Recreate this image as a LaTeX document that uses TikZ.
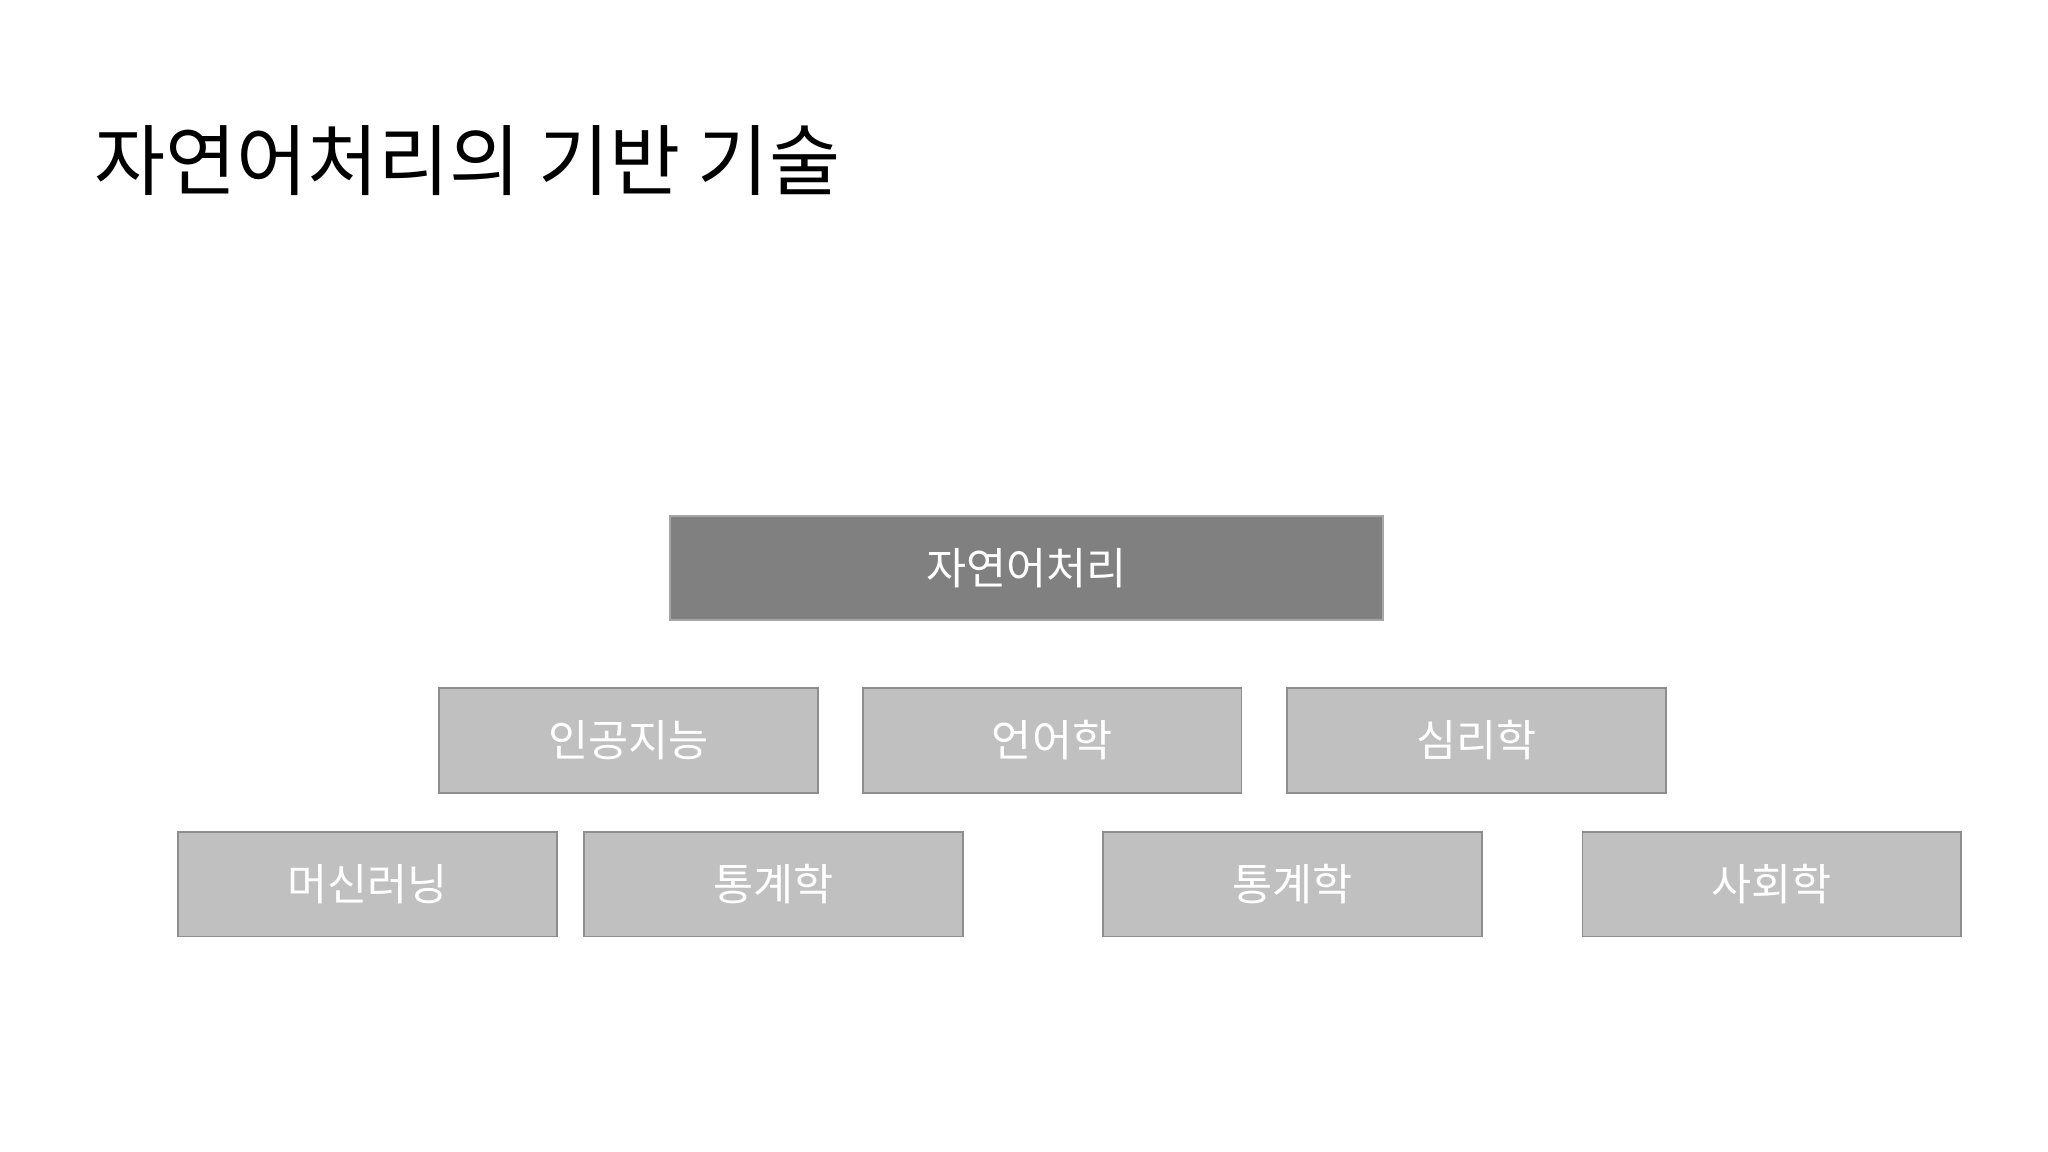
\documentclass[tikz,border=0pt]{standalone}
\usepackage{fontspec}
\setmainfont{Noto Sans CJK KR}
\definecolor{rootgray}{HTML}{808080}
\definecolor{rootline}{HTML}{A6A6A6}
\definecolor{fieldgray}{HTML}{C0C0C0}
\definecolor{fieldline}{HTML}{8E8E8E}

\begin{document}
\begin{tikzpicture}[x=0.02cm, y=-0.02cm,
        every node/.style={inner sep=0pt, outer sep=0pt},
        field/.style={draw=fieldline, fill=fieldgray, line width=0.8pt, text=white,
            minimum width=5.8cm, minimum height=1.6cm, font=\fontsize{19}{22}\selectfont},
        root/.style={field, draw=rootline, fill=rootgray, minimum width=10.92cm}]

    \useasboundingbox (0,0) rectangle (1568,882);

    % title
    \node[anchor=west, font=\fontsize{33.7}{40}\selectfont] (title) at (72,123) {자연어처리의 기반 기술};

    % top level
    \node[root] (nlp) at (786,435) {자연어처리};

    % second row
    \node[field] (ai)  at (481,567)    {인공지능};
    \node[field] (lin) at (805.5,567)  {언어학};
    \node[field] (psy) at (1130.5,567) {심리학};

    % third row
    \node[field] (ml)    at (281.5,677)  {머신러닝};
    \node[field] (stat)  at (592,677)    {통계학};
    \node[field] (stat2) at (989.5,677)  {통계학};
    \node[field] (soc)   at (1356.5,677) {사회학};
\end{tikzpicture}
\end{document}
